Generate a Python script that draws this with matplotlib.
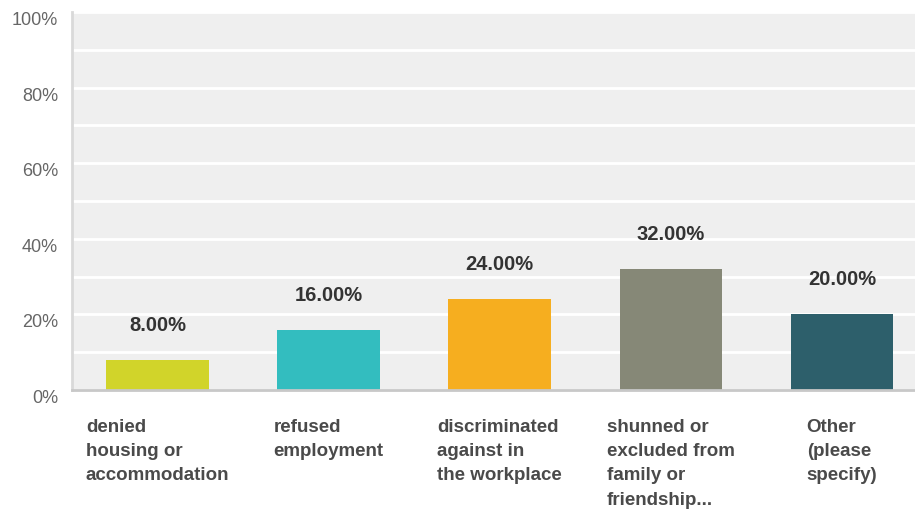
import matplotlib.pyplot as plt
from matplotlib.ticker import MultipleLocator

# survey answers and their shares (%)
categories = [
    "denied\nhousing or\naccommodation",
    "refused\nemployment",
    "discriminated\nagainst in\nthe workplace",
    "shunned or\nexcluded from\nfamily or\nfriendship...",
    "Other\n(please\nspecify)",
]
values = [8.00, 16.00, 24.00, 32.00, 20.00]
colors = ["#d1d42a", "#33bdbf", "#f6ae1f", "#868877", "#2d5f6b"]
y_ticks = [0, 20, 40, 60, 80, 100]
y_tick_labels = ["0%", "20%", "40%", "60%", "80%", "100%"]

plt.rcParams['font.family'] = ['Liberation Sans', 'DejaVu Sans']

fig = plt.figure(figsize=(9.15, 5.11), dpi=100)
ax = fig.add_axes([72 / 915, 1 - 390 / 511, 1 - 72 / 915, (390 - 12) / 511])
ax.set_facecolor("#efefef")

x = list(range(len(categories)))
bars = ax.bar(x, values, width=0.6, color=colors, zorder=3)

for xi, v in zip(x, values):
    ax.annotate(f"{v:.2f}%", (xi, v), xytext=(0, 25), textcoords="offset pixels",
                ha="center", va="bottom", fontsize=14.5, fontweight="bold",
                color="#333333")

ax.set_xlim(-0.5, (915 - 158) / 171)
ax.set_ylim(0, 100)

# white gridlines every 10%
ax.yaxis.set_minor_locator(MultipleLocator(10))
ax.grid(True, axis="y", which="both", color="white", linewidth=2, zorder=1)
ax.set_yticks(y_ticks)
ax.set_yticklabels(y_tick_labels, fontsize=13, color="#666666", va="top")
ax.tick_params(axis="y", which="both", length=0, pad=10)

ax.set_xticks(x)
ax.set_xticklabels(categories, fontsize=13.5, fontweight="bold", color="#4a4a4a",
                   ha="center", multialignment="left", linespacing=1.55)
ax.tick_params(axis="x", length=0, pad=21)

for side in ["top", "right"]:
    ax.spines[side].set_visible(False)
ax.spines["left"].set_color("#d9d9d9")
ax.spines["left"].set_linewidth(2)
ax.spines["bottom"].set_color("#c8c8c8")
ax.spines["bottom"].set_linewidth(2)
ax.spines["left"].set_zorder(4)
ax.spines["bottom"].set_zorder(4)

fig.savefig("out.png", dpi=100)
